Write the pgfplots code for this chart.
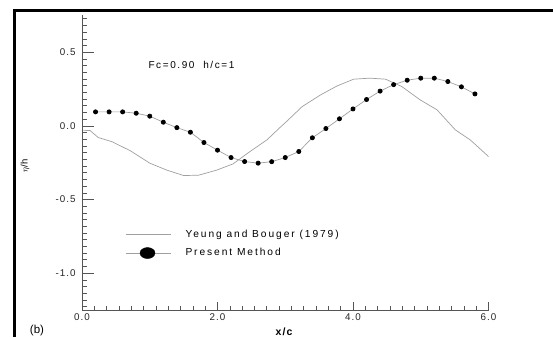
\documentclass[border=0pt]{standalone}
\usepackage{pgfplots}
\pgfplotsset{compat=1.18}
\usepackage{fontspec}
\setmainfont{Liberation Sans}
\newfontfamily\tfont[LetterSpace=10]{Liberation Sans}
\newfontfamily\ffont[LetterSpace=16]{Liberation Sans}
\newfontfamily\lfont[LetterSpace=19]{Liberation Sans}
\definecolor{curvegray}{HTML}{A0A0A0}
\definecolor{axgray}{HTML}{555555}
\pgfplotstableread{
x y
0.02 -0.030
0.12 -0.032
0.24 -0.079
0.44 -0.107
0.71 -0.168
1.00 -0.253
1.25 -0.300
1.50 -0.337
1.72 -0.335
1.99 -0.300
2.23 -0.258
2.48 -0.174
2.73 -0.095
2.92 -0.012
3.02 0.030
3.25 0.131
3.52 0.210
3.76 0.270
4.01 0.317
4.25 0.324
4.48 0.317
4.72 0.267
4.99 0.177
5.24 0.109
5.51 -0.027
5.73 -0.095
6.00 -0.208
}\yeung
\pgfplotstableread{
x y
0.2 0.095
0.4 0.095
0.6 0.095
0.8 0.086
1.0 0.066
1.2 0.025
1.4 -0.012
1.6 -0.043
1.8 -0.113
2.0 -0.165
2.2 -0.215
2.4 -0.242
2.6 -0.253
2.8 -0.243
3.0 -0.215
3.2 -0.174
3.4 -0.081
3.6 -0.018
3.8 0.048
4.0 0.115
4.2 0.179
4.4 0.236
4.6 0.280
4.8 0.310
5.0 0.324
5.2 0.324
5.4 0.301
5.6 0.265
5.8 0.217
}\present
\begin{document}
\begin{tikzpicture}
\useasboundingbox (0pt,0pt) rectangle (553pt,-337pt);
\fill[white] (0pt,0pt) rectangle (553pt,-337pt);
\draw[black,line width=2.6pt] (14.5pt,-337pt) -- (14.5pt,-10.5pt) -- (553pt,-10.5pt);
\node[font=\fontsize{11.5}{12}\selectfont] at (37pt,-331pt) {(b)};
\begin{axis}[
  at={(82pt,-310pt)}, anchor=south west,
  scale only axis, width=406.5pt, height=294.6pt,
  xmin=0, xmax=6, ymin=-1.25, ymax=0.75,
  axis lines=left, axis line style={-, axgray, line width=0.8pt},
  xtick={0,2,4,6}, xticklabels={0.0,2.0,4.0,6.0},
  ytick={-1,-0.5,0,0.5}, yticklabels={-1.0,-0.5,0.0,0.5},
  minor xtick={0,0.181818,...,6},
  minor ytick={-1.227273,-1.181818,...,0.74},
  tick align=inside,
  tick style={axgray, line width=0.6pt},
  xtick style={/pgfplots/major tick length=8pt},
  ytick style={/pgfplots/major tick length=11.5pt},
  minor x tick style={/pgfplots/minor tick length=4pt},
  minor y tick style={/pgfplots/minor tick length=5pt},
  ticklabel style={font=\tfont\fontsize{9.8}{11}\selectfont, text=black!85},
  xticklabel style={yshift=-0.5pt},
  yticklabel style={xshift=-3pt},
  xlabel={x/c},
  xlabel style={at={(axis description cs:0.497,0)}, anchor=center, yshift=-22pt, font=\tfont\bfseries\fontsize{10.5}{11}\selectfont},
  ylabel={$\eta$/h},
  ylabel style={at={(axis description cs:-0.140,0.489)}, anchor=center, font=\fontsize{9.5}{10}\selectfont},
  clip=false,
  legend style={at={(axis cs:0.634,-0.69)}, anchor=north west, draw=none, fill=none,
    inner sep=0pt, row sep=6pt, font=\lfont\fontsize{10.2}{11}\selectfont,
    /tikz/every even column/.append style={column sep=0pt}},
  legend cell align=left,
]
\addplot[curvegray, line width=0.7pt, forget plot] table[x=x,y=y] {\yeung};
\addplot[curvegray, line width=0.7pt, mark=*, mark size=2.1pt, mark options={fill=black, draw=black}, forget plot] table[x=x,y=y] {\present};
\addlegendimage{legend image code/.code={\draw[curvegray,line width=0.7pt] (0pt,0pt)--(45pt,0pt); \path[draw=none,fill=none] (0pt,-5.5pt) rectangle (58pt,5.5pt);}}
\addlegendentry{Yeung and Bouger (1979)}
\addlegendimage{legend image code/.code={\draw[curvegray,line width=0.7pt] (0pt,0pt)--(45pt,0pt); \fill[black] (22pt,0pt) ellipse (7.5pt and 5.5pt); \path[draw=none,fill=none] (0pt,-5.5pt) rectangle (58pt,5.5pt);}}
\addlegendentry{Present Method}
\node[anchor=west, font=\ffont\fontsize{10}{11}\selectfont] at (axis cs:0.93,0.414) {Fc=0.90\ \ h/c=1};
\end{axis}
\end{tikzpicture}
\end{document}
